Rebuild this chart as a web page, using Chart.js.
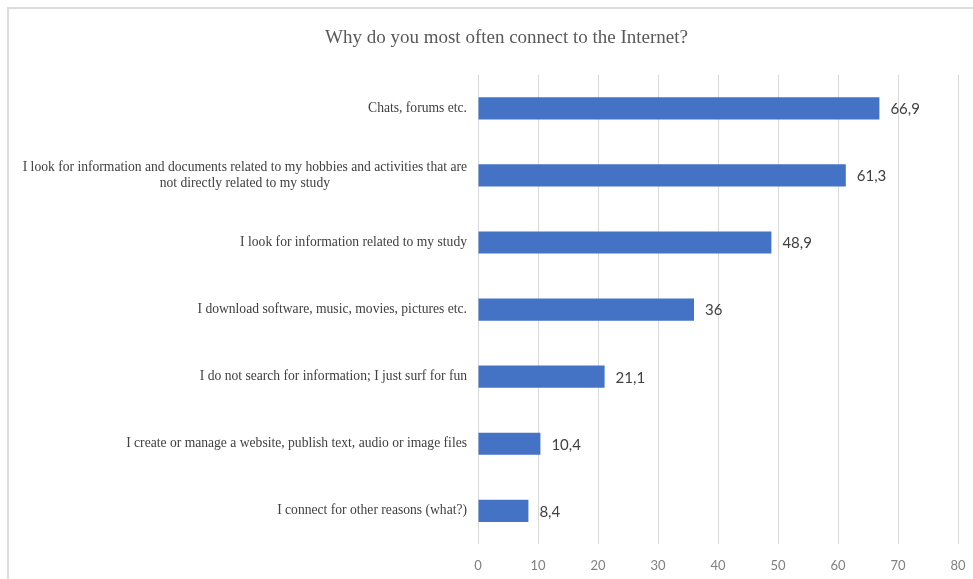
<!DOCTYPE html>
<html>
<head>
<meta charset="utf-8">
<script src="https://cdn.jsdelivr.net/npm/chart.js@4.4.0/dist/chart.umd.min.js"></script>
<style>
  html, body { margin: 0; padding: 0; background: #fff; overflow: hidden; }
  #wrap { position: absolute; left: 0; top: 0; width: 973px; height: 579px; }
  #frame { position: absolute; left: 7px; top: 7px; width: 1000px; height: 600px;
           border-left: 2px solid #dcdcdc; border-top: 2px solid #dcdcdc; pointer-events: none; }
</style>
</head>
<body>
<div id="wrap">
  <canvas id="grafico" width="973" height="579"></canvas>
  <div id="frame"></div>
</div>
<script>
// Dados do gráfico
const categorias = [
  "Chats, forums etc.",
  ["I look for information and documents related to my hobbies and activities that are", "not directly related to my study"],
  "I look for information related to my study",
  "I download software, music, movies, pictures etc.",
  "I do not search for information; I just surf for fun",
  "I create or manage a website, publish text, audio or image files",
  "I connect for other reasons (what?)"
];
const valores = [66.9, 61.3, 48.9, 36, 21.1, 10.4, 8.4];
const ticksX = [0, 10, 20, 30, 40, 50, 60, 70, 80];

const SERIF = "'Liberation Serif', 'DejaVu Serif', serif";
const SANS = "Lato, 'Open Sans', sans-serif";

// Rótulos das categorias (linhas centradas, bloco alinhado à direita)
const rotulosCategorias = {
  id: "rotulosCategorias",
  afterDraw(chart) {
    const ctx = chart.ctx;
    const y = chart.scales.y;
    const direita = chart.chartArea.left - 11;
    ctx.save();
    ctx.font = "13.6px " + SERIF;
    ctx.fillStyle = "#404040";
    ctx.textAlign = "center";
    ctx.textBaseline = "middle";
    categorias.forEach((cat, i) => {
      const linhas = Array.isArray(cat) ? cat : [cat];
      const larg = Math.max(...linhas.map(l => ctx.measureText(l).width));
      const cx = direita - larg / 2;
      const cy = y.getPixelForValue(i);
      const h = 16;
      linhas.forEach((l, j) => {
        ctx.fillText(l, cx, cy + (j - (linhas.length - 1) / 2) * h);
      });
    });
    ctx.restore();
  }
};

// Valores ao fim de cada barra, com vírgula decimal
const rotulosValores = {
  id: "rotulosValores",
  afterDatasetsDraw(chart) {
    const ctx = chart.ctx;
    const meta = chart.getDatasetMeta(0);
    ctx.save();
    ctx.font = "15px " + SANS;
    ctx.fillStyle = "#404040";
    ctx.textAlign = "left";
    ctx.textBaseline = "middle";
    meta.data.forEach((bar, i) => {
      const txt = String(valores[i]).replace(".", ",");
      ctx.fillText(txt, bar.x + 11, bar.y + 1);
    });
    ctx.restore();
  }
};

new Chart(document.getElementById("grafico"), {
  type: "bar",
  data: {
    labels: categorias,
    datasets: [{
      data: valores,
      backgroundColor: "#4472C4",
      borderWidth: 0,
      categoryPercentage: 0.66,
      barPercentage: 0.5
    }]
  },
  options: {
    indexAxis: "y",
    responsive: false,
    animation: false,
    layout: { padding: { left: 40, right: 0, top: 0, bottom: -9 } },
    plugins: {
      legend: { display: false },
      tooltip: { enabled: false },
      title: {
        display: true,
        text: "Why do you most often connect to the Internet?",
        color: "#595959",
        font: { family: SERIF, size: 19, weight: "normal" },
        padding: { top: 27, bottom: 25 }
      }
    },
    scales: {
      x: {
        min: 0,
        max: 80,
        afterBuildTicks(scale) { scale.ticks = ticksX.map(v => ({ value: v })); },
        afterFit(scale) { scale.paddingRight = 15; },
        grid: { color: "#d9d9d9", drawTicks: false, lineWidth: 1 },
        border: { display: false },
        ticks: { color: "#7f7f7f", font: { family: SANS, size: 13 }, padding: 14 }
      },
      y: {
        grid: { display: false },
        border: { display: false },
        ticks: { display: false },
        afterFit(scale) { scale.width = 438; }
      }
    }
  },
  plugins: [rotulosCategorias, rotulosValores]
});
</script>
</body>
</html>
